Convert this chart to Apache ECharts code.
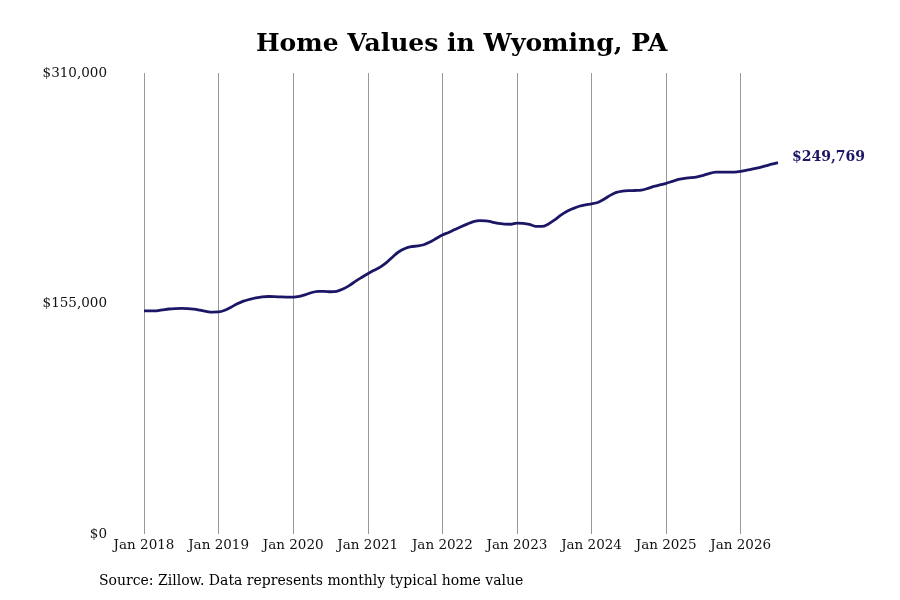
<!DOCTYPE html>
<html>
<head>
<meta charset="utf-8">
<script src="https://cdn.jsdelivr.net/npm/echarts@6/dist/echarts.min.js"></script>
<style>
  html, body { margin: 0; padding: 0; background: #fff; }
  #chart { width: 900px; height: 600px; }
</style>
</head>
<body>
<div id="chart"></div>
<script>
// monthly typical home value, Jan 2018 .. Jul 2026
const startYear = 2018;
const homeValues = [
  150000, 150000, 150100, 150700, 151300, 151600, 151700, 151600, 151200, 150500, 149700, 149200,
  149300, 150500, 152500, 154800, 156600, 157800, 158800, 159500, 159700, 159600, 159400, 159300,
  159300, 159800, 161000, 162400, 163100, 163200, 162900, 163200, 164700, 167000, 169900, 172500,
  175000, 177300, 179500, 182500, 186300, 189800, 192000, 193200, 193700, 194500, 196300, 198700,
  201000, 202800, 204700, 206600, 208400, 210000, 210700, 210600, 209800, 208800, 208400, 208300,
  209100, 208900, 208200, 206900, 206800, 208300, 211000, 214200, 216900, 218800, 220400, 221400,
  222000, 222900, 225100, 227700, 229700, 230600, 230900, 231000, 231200, 232300, 233700, 234700,
  235800, 237100, 238400, 239200, 239600, 240200, 241200, 242500, 243300, 243400, 243300, 243300,
  243800, 244700, 245500, 246400, 247500, 248700, 249769
];
const monthNames = ['Jan', 'Feb', 'Mar', 'Apr', 'May', 'Jun', 'Jul', 'Aug', 'Sep', 'Oct', 'Nov', 'Dec'];
const months = homeValues.map((v, i) => monthNames[i % 12] + ' ' + (startYear + Math.floor(i / 12)));
const yTicks = [0, 155000, 310000];

const font = 'DejaVu Serif';
const money = v => '$' + Math.round(v).toLocaleString('en-US');
const isJan = i => i % 12 === 0;

const chart = echarts.init(document.getElementById('chart'));
chart.setOption({
  backgroundColor: '#fff',
  animation: false,
  title: {
    text: 'Home Values in Wyoming, PA',
    left: 251,
    top: 27,
    textStyle: { fontFamily: font, fontSize: 25, fontWeight: 'bold', color: '#000' }
  },
  graphic: [{
    type: 'text',
    left: 99,
    top: 574,
    style: {
      text: 'Source: Zillow. Data represents monthly typical home value',
      fontFamily: font, fontSize: 14, fill: '#000'
    }
  }],
  grid: { left: 144, right: 122, top: 73, bottom: 66 },
  xAxis: {
    type: 'category',
    data: months,
    boundaryGap: false,
    axisLine: { show: false },
    axisTick: { show: false, interval: isJan },
    axisLabel: {
      interval: isJan,
      margin: 4,
      fontFamily: font, fontSize: 13.5, color: '#111'
    },
    splitLine: { show: true, interval: isJan, lineStyle: { color: '#999', width: 1 } }
  },
  yAxis: {
    type: 'value',
    min: yTicks[0],
    max: yTicks[yTicks.length - 1],
    interval: yTicks[1] - yTicks[0],
    axisLine: { show: false },
    axisTick: { show: false },
    splitLine: { show: false },
    axisLabel: {
      margin: 37,
      formatter: money,
      fontFamily: font, fontSize: 13.5, color: '#111'
    }
  },
  series: [{
    type: 'line',
    data: homeValues,
    smooth: 0.3,
    symbol: 'none',
    lineStyle: { color: '#1b1666', width: 2.8 },
    endLabel: {
      show: true,
      distance: 14,
      offset: [0, -5],
      formatter: p => money(p.value),
      fontFamily: font, fontSize: 14, fontWeight: 'bold', color: '#1b1666'
    }
  }]
});
</script>
</body>
</html>
